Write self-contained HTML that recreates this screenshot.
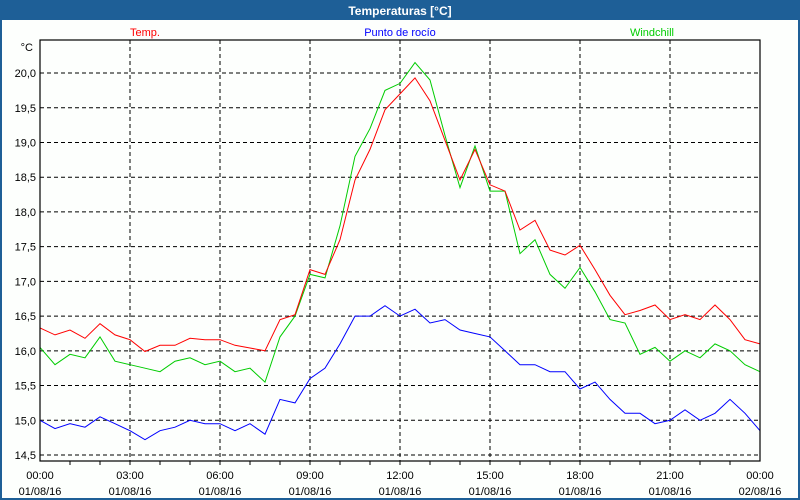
<!DOCTYPE html>
<html><head><meta charset="utf-8"><style>
body{margin:0;background:#fff;}
svg{display:block;font-family:"Liberation Sans","DejaVu Sans",sans-serif;}
</style></head><body>
<svg id="c" width="800" height="500" xmlns="http://www.w3.org/2000/svg">
<rect x="0" y="0" width="800" height="500" fill="#1e5f97"/>
<rect x="2" y="20" width="796" height="478" fill="#fdfffd"/>
<text x="400" y="15" text-anchor="middle" fill="#fff" font-weight="bold" font-size="12">Temperaturas [°C]</text>
<text x="145" y="36" text-anchor="middle" fill="#ff0000" font-size="11">Temp.</text>
<text x="400" y="36" text-anchor="middle" fill="#0000ff" font-size="11">Punto de rocío</text>
<text x="652" y="36" text-anchor="middle" fill="#00cc00" font-size="11">Windchill</text>
<text x="33" y="51" text-anchor="end" font-size="11" fill="#000">°C</text>
<g id="grid"></g><g id="series"></g>
<rect x="40" y="40" width="720" height="421" fill="none" stroke="#000" stroke-width="1.2"/>
</svg>
<script>
const yTicks=[14.5,15.0,15.5,16.0,16.5,17.0,17.5,18.0,18.5,19.0,19.5,20.0];
const xTimes=["00:00","03:00","06:00","09:00","12:00","15:00","18:00","21:00","00:00"];
const xDates=["01/08/16","01/08/16","01/08/16","01/08/16","01/08/16","01/08/16","01/08/16","01/08/16","02/08/16"];
const temp=[16.33,16.23,16.3,16.18,16.39,16.23,16.16,15.99,16.08,16.08,16.18,16.16,16.16,16.08,16.04,16.0,16.45,16.52,17.17,17.1,17.6,18.46,18.9,19.47,19.7,19.93,19.6,19.03,18.46,18.9,18.39,18.3,17.74,17.88,17.45,17.38,17.52,17.17,16.8,16.52,16.58,16.66,16.45,16.52,16.45,16.66,16.45,16.16,16.1];
const windchill=[16.05,15.8,15.95,15.9,16.2,15.85,15.8,15.75,15.7,15.85,15.9,15.8,15.85,15.7,15.75,15.55,16.2,16.5,17.1,17.05,17.8,18.8,19.2,19.75,19.85,20.15,19.9,19.1,18.35,18.95,18.3,18.3,17.4,17.6,17.1,16.9,17.2,16.85,16.45,16.4,15.95,16.05,15.85,16.0,15.9,16.1,16.0,15.8,15.7];
const dew=[15.0,14.88,14.95,14.9,15.05,14.95,14.85,14.72,14.85,14.9,15.0,14.95,14.95,14.85,14.95,14.8,15.3,15.25,15.6,15.75,16.1,16.5,16.5,16.65,16.5,16.6,16.4,16.45,16.3,16.25,16.2,16.0,15.8,15.8,15.7,15.7,15.45,15.55,15.3,15.1,15.1,14.95,15.0,15.15,15.0,15.1,15.3,15.1,14.85];
const X0=40,X1=760;
const yS=v=>455-(v-14.5)*69.45;
const xS=h=>X0+(X1-X0)*h/24;
const NS="http://www.w3.org/2000/svg";
const grid=document.getElementById('grid'),ser=document.getElementById('series');
function mk(t,a,p){const e=document.createElementNS(NS,t);for(const k in a)e.setAttribute(k,a[k]);p.appendChild(e);return e;}
yTicks.forEach(v=>{
 const l=mk('line',{x1:X0,x2:X1,y1:yS(v),y2:yS(v),stroke:'#000','stroke-dasharray':'4,3','stroke-width':1},grid);
 
 
 const t=mk('text',{x:36,y:yS(v)+4,'text-anchor':'end','font-size':11,fill:'#000'},grid);
 t.textContent=v.toFixed(1).replace('.',',');
 
 
});
for(let h=1;h<24;h++){
 const tk=mk('line',{x1:xS(h),x2:xS(h),y1:461,y2:465,stroke:'#000'},grid);
 
 
}
xTimes.forEach((s,i)=>{
 const x=xS(i*3);
 if(i>0&&i<8){const l=mk('line',{x1:x,x2:x,y1:40,y2:461,stroke:'#000','stroke-dasharray':'4,3'},grid);
 
 }
 const t=mk('text',{x:x,y:479,'text-anchor':'middle','font-size':11,fill:'#000'},grid);t.textContent=s;
 
 
 const d=mk('text',{x:x,y:495,'text-anchor':'middle','font-size':11,fill:'#000'},grid);d.textContent=xDates[i];
 
 
});
function line(arr,col,name){
 const pts=arr.map((v,i)=>xS(i*24/(arr.length-1)).toFixed(1)+','+yS(v).toFixed(1)).join(' ');
 const p=mk('polyline',{points:pts,fill:'none',stroke:col,'stroke-width':1},ser);
 
 
}
line(dew,'#0000ff','dew-point-line');
line(windchill,'#00cc00','windchill-line');
line(temp,'#ff0000','temp-line');
</script>
</body></html>
